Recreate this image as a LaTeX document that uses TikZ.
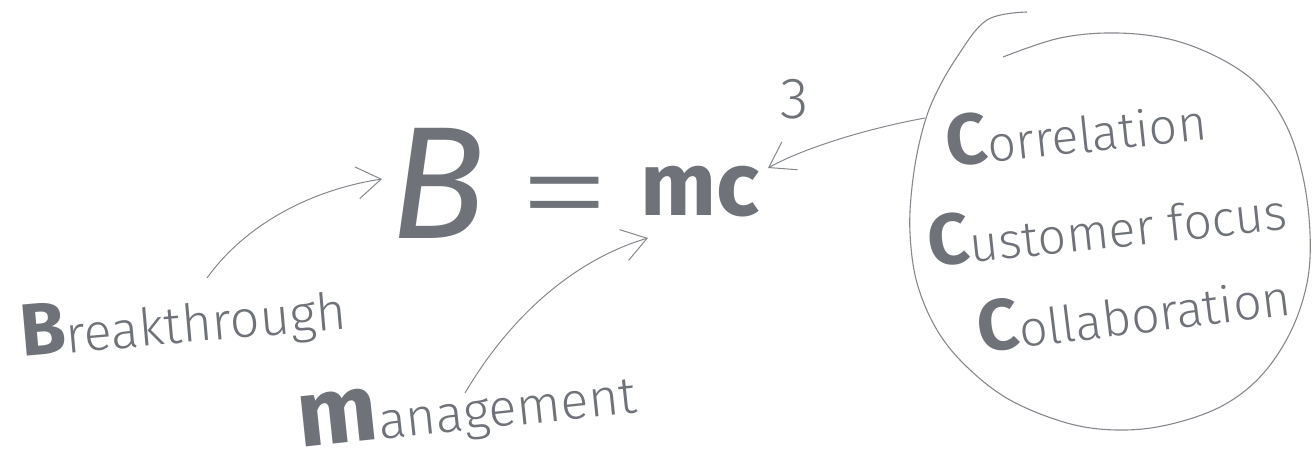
\documentclass[tikz,border=0pt]{standalone}
\usepackage{fontspec}
\setmainfont{Fira Sans Light}[BoldFont={Fira Sans Bold}]
\newfontfamily\regfont{Fira Sans}
\usepackage{tikz}
\usetikzlibrary{arrows.meta}
\definecolor{pencil}{HTML}{6F7379}
\definecolor{lead}{HTML}{85888D}
\tikzstyle{word} = [text=pencil, inner sep=0pt, text depth=0pt, anchor=base west]
\tikzstyle{formula} = [text=pencil, inner sep=0pt, anchor=base]
\tikzstyle{arrow} = [draw=lead, line width=1pt, -{Straight Barb[length=24pt,width=32pt,line width=1pt]}]
\newcommand{\initial}[2]{{\fontsize{#1}{#1}\selectfont\bfseries #2}}

\begin{document}
\begin{tikzpicture}[x=1pt, y=-1pt]
        \useasboundingbox (0,0) rectangle (1315,458);

        % Formula B = mc^3
        \node[formula, font=\fontsize{160}{160}\selectfont\regfont\itshape] (eqB) at (438,238) {B};
        \node[formula, font=\fontsize{120}{120}\selectfont] (eqSign) at (565,238) {\scalebox{1.6}[1.15]{=}};
        \node[formula, font=\fontsize{90}{90}\selectfont\bfseries] (eqMC) at (700,215) {mc};
        \node[formula, font=\fontsize{58}{58}\selectfont] (eqCube) at (795,118) {3};

        % Words that make up the formula
        \node[word, rotate=5, font=\fontsize{52}{52}\selectfont] (brk) at (22,357) {\initial{74}{B}reakthrough};
        \node[word, rotate=6, font=\fontsize{52}{52}\selectfont] (mgmt) at (300,448) {\initial{95}{m}anagement};

        % The three C's inside the loop
        \node[word, rotate=6, font=\fontsize{50}{50}\selectfont] (corr) at (948,167) {\initial{72}{C}orrelation};
        \node[word, rotate=6, font=\fontsize{50}{50}\selectfont] (cust) at (930,267) {\initial{72}{C}ustomer focus};
        \node[word, rotate=7, font=\fontsize{50}{50}\selectfont] (coll) at (980,353) {\initial{72}{C}ollaboration};

        % Hand-drawn loop round the C's
        \draw[lead, line width=1.1pt] plot[smooth, tension=0.6] coordinates {
            (1027,12) (987,20) (957,57) (933,100) (920,140) (912,187) (910,233)
            (917,283) (937,330) (967,367) (1010,400) (1067,423) (1117,430)
            (1167,425) (1220,407) (1260,377) (1290,333) (1307,283) (1310,233)
            (1303,177) (1287,127) (1260,87) (1223,60) (1173,40) (1117,33)
            (1060,38) (1003,57)};

        % Arrows into the formula
        \coordinate (brkTail) at (207,278);
        \coordinate (mgmtTail) at (465,393);
        \coordinate (loopEdge) at (925,118);
        \draw[arrow] (brkTail) .. controls (245,225) and (310,190) .. (382,179);
        \draw[arrow] (mgmtTail) .. controls (520,300) and (590,255) .. (648,238);
        \draw[arrow] (loopEdge) .. controls (860,130) and (800,150) .. (768,168);

    \end{tikzpicture}
\end{document}
